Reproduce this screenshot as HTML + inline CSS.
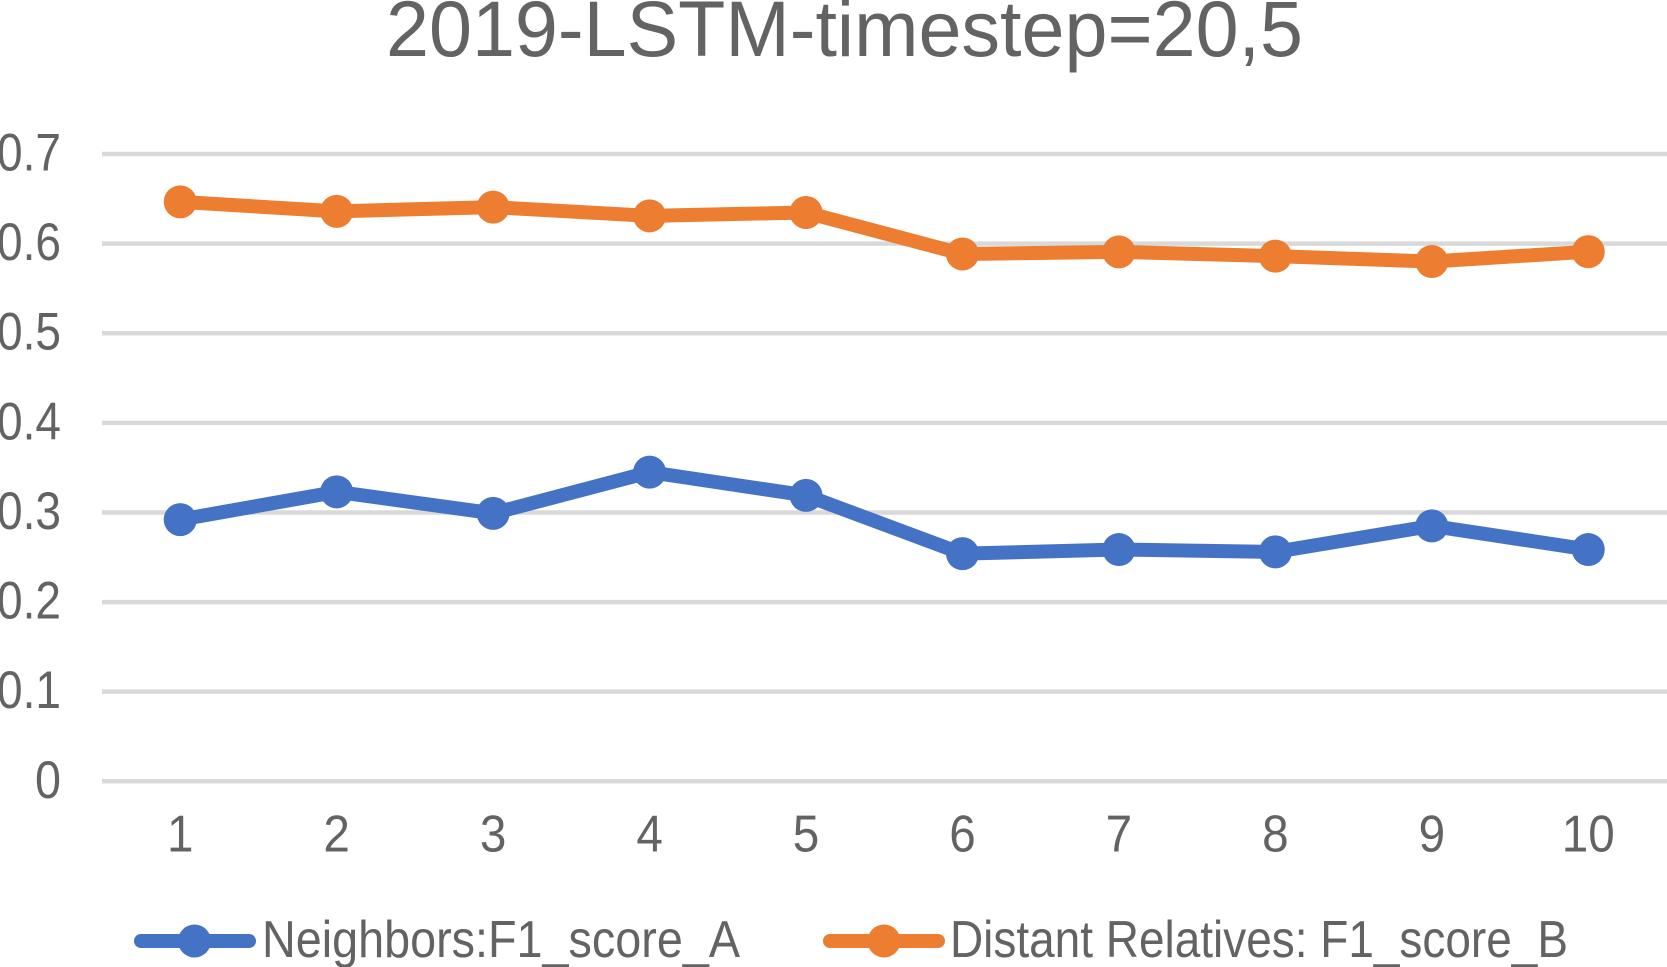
<!DOCTYPE html>
<html>
<head>
<meta charset="utf-8">
<title>2019-LSTM-timestep=20,5</title>
<style>
html,body{margin:0;padding:0;background:#fff;width:1667px;height:967px;overflow:hidden}
svg{display:block}
text{font-family:"Liberation Sans","Noto Sans CJK SC",sans-serif;fill:#636363}
</style>
</head>
<body>
<svg id="chart" width="1667" height="967" viewBox="0 0 1667 967" xmlns="http://www.w3.org/2000/svg">
  <rect x="0" y="0" width="1667" height="967" fill="#ffffff"/>
  <text x="386" y="56" font-size="79" textLength="917" lengthAdjust="spacingAndGlyphs">2019-LSTM-timestep=20,5</text>
  <g id="grid"></g>
  <g id="yaxis"></g>
  <g id="xaxis"></g>
  <g id="series"></g>
  <g>
    <g>
      <line x1="141" y1="941" x2="249" y2="941" stroke="#4472c4" stroke-width="14" stroke-linecap="round"/>
      <circle cx="194.5" cy="941" r="16.5" fill="#4472c4"/>
      <text x="262" y="957" font-size="52" textLength="478" lengthAdjust="spacingAndGlyphs">Neighbors:F1_score_A</text>
    </g>
    <g>
      <line x1="830" y1="941" x2="938" y2="941" stroke="#ed7d31" stroke-width="14" stroke-linecap="round"/>
      <circle cx="884" cy="941" r="16.5" fill="#ed7d31"/>
      <text x="950" y="957" font-size="52" textLength="618" lengthAdjust="spacingAndGlyphs">Distant Relatives: F1_score_B</text>
    </g>
  </g>
</svg>
<script>
var categories = ["1","2","3","4","5","6","7","8","9","10"];
var yTicks = [0, 0.1, 0.2, 0.3, 0.4, 0.5, 0.6, 0.7];
var neighborsValues = [0.292, 0.323, 0.299, 0.345, 0.319, 0.254, 0.2586, 0.256, 0.285, 0.2586];
var distantValues = [0.6466, 0.636, 0.6407, 0.631, 0.6347, 0.5884, 0.5908, 0.586, 0.580, 0.591];

var NS = "http://www.w3.org/2000/svg";
var plotLeft = 102, plotRight = 1666.5, plotBottom = 781.3, plotTop = 154, yMax = 0.7;
function xScale(i) { return plotLeft + (plotRight - plotLeft) * (i + 0.5) / categories.length; }
function yScale(v) { return plotBottom - (plotBottom - plotTop) * v / yMax; }
function make(tag, attrs, parent) {
  var el = document.createElementNS(NS, tag);
  for (var k in attrs) el.setAttribute(k, attrs[k]);
  parent.appendChild(el);
  return el;
}
var grid = document.getElementById("grid");
var yaxis = document.getElementById("yaxis");
var xaxis = document.getElementById("xaxis");
var seriesGroup = document.getElementById("series");

yTicks.forEach(function (t) {
  var y = yScale(t);
  var line = make("line", {x1: plotLeft, x2: 1667, y1: y, y2: y, stroke: "#d9d9d9", "stroke-width": 4.5}, grid);
  
  
  var s = String(t);
  var len = s.length === 1 ? 26 : 64;
  var lab = make("text", {x: 61 - len, y: y + 16.5, "font-size": 53, textLength: len, lengthAdjust: "spacingAndGlyphs"}, yaxis);
  
  
  lab.textContent = s;
});

categories.forEach(function (c, i) {
  var len = c.length * 26.5;
  var lab = make("text", {x: xScale(i) - len / 2, y: 851.5, "font-size": 52, textLength: len, lengthAdjust: "spacingAndGlyphs"}, xaxis);
  
  
  lab.textContent = c;
});

function drawSeries(values, color, name) {
  var pts = values.map(function (v, i) { return xScale(i) + "," + yScale(v); }).join(" ");
  var line = make("polyline", {points: pts, fill: "none", stroke: color, "stroke-width": 14, "stroke-linejoin": "round", "stroke-linecap": "round"}, seriesGroup);
  
  
  values.forEach(function (v, i) {
    var dot = make("circle", {cx: xScale(i), cy: yScale(v), r: 16.5, fill: color}, seriesGroup);
    
    
  });
}
drawSeries(neighborsValues, "#4472c4", "neighbors");
drawSeries(distantValues, "#ed7d31", "distant-relatives");
</script>
</body>
</html>
